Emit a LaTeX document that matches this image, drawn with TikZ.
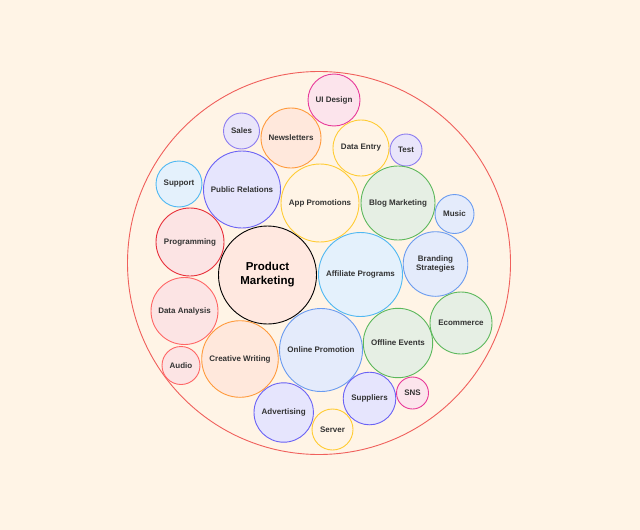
\documentclass[tikz,border=0pt]{standalone}
\usepackage{fontspec}
\setmainfont{Liberation Sans}
\definecolor{bg}{HTML}{FFF4E6}
\definecolor{txt}{HTML}{333333}
\definecolor{outerc}{HTML}{F0605C}
\definecolor{pinkS}{HTML}{E8399A}\definecolor{pinkF}{HTML}{FCE4EC}
\definecolor{purS}{HTML}{8C7CF0}\definecolor{purF}{HTML}{E9E5FA}
\definecolor{indS}{HTML}{6A62F5}\definecolor{indF}{HTML}{E6E5FD}
\definecolor{orS}{HTML}{FF9A3C}\definecolor{orF}{HTML}{FFE8DC}
\definecolor{yeS}{HTML}{FFCC33}\definecolor{yeF}{HTML}{FFF4E6}
\definecolor{grS}{HTML}{5CB85C}\definecolor{grF}{HTML}{E6EFE4}
\definecolor{lbS}{HTML}{4FB8F2}\definecolor{lbF}{HTML}{E4F1FC}
\definecolor{blS}{HTML}{6A9BF0}\definecolor{blF}{HTML}{E4EBFB}
\definecolor{rdS}{HTML}{E8303A}\definecolor{rdF}{HTML}{FCE4E4}
\definecolor{lrS}{HTML}{FF6666}\definecolor{lrF}{HTML}{FCE4E4}
\definecolor{pmF}{HTML}{FFE8E0}
\tikzset{
  bub/.style={circle, inner sep=0pt, line width=0.9pt, align=center, text=txt,
    font=\fontsize{8}{9.5}\selectfont\bfseries},
  pink/.style={bub, draw=pinkS, fill=pinkF},
  pur/.style={bub, draw=purS, fill=purF},
  ind/.style={bub, draw=indS, fill=indF},
  ora/.style={bub, draw=orS, fill=orF},
  yel/.style={bub, draw=yeS, fill=yeF},
  gre/.style={bub, draw=grS, fill=grF},
  lbl/.style={bub, draw=lbS, fill=lbF},
  blu/.style={bub, draw=blS, fill=blF},
  red/.style={bub, draw=rdS, fill=rdF},
  lred/.style={bub, draw=lrS, fill=lrF},
  r/.style={minimum size=2*#1 pt}
}
\begin{document}
\begin{tikzpicture}[x=1pt,y=-1pt]
\fill[bg] (0,0) rectangle (640,530);
\useasboundingbox (0,0) rectangle (640,530);
\node[circle, draw=outerc, line width=0.9pt, minimum size=383pt, inner sep=0pt] (outer) at (319,263) {};
\node[pink, r=26] (ui) at (334,100) {UI Design};
\node[pur, r=18] (sales) at (241.5,131) {Sales};
\node[ora, r=30] (news) at (291,138) {Newsletters};
\node[lbl, r=23] (support) at (179,184) {Support};
\node[ind, r=38.5] (pr) at (242,189.5) {Public Relations};
\node[yel, r=28] (entry) at (361,148) {Data Entry};
\node[pur, r=16] (test) at (406,150) {Test};
\node[yel, r=39] (app) at (320,203) {App Promotions};
\node[gre, r=37] (blog) at (398,203) {Blog Marketing};
\node[blu, r=19.5] (music) at (454.5,214) {Music};
\node[red, r=34] (prog) at (190,242) {Programming};
\node[bub, r=49, draw=black, fill=pmF, text=black, font=\fontsize{11.5}{14}\selectfont\bfseries] (pm) at (267.5,275) {Product\\Marketing};
\node[lred, r=33.5] (da) at (184.5,311) {Data Analysis};
\node[lred, r=19] (audio) at (181,365.5) {Audio};
\node[ora, r=38.3] (cw) at (240,359) {Creative Writing};
\node[blu, r=41.5] (op) at (321,350) {Online Promotion};
\node[lbl, r=42] (aff) at (360.5,274.5) {Affiliate Programs};
\node[blu, r=32.3] (brand) at (435.5,264) {Branding\\Strategies};
\node[gre, r=31] (ecom) at (461,323) {Ecommerce};
\node[gre, r=34.7] (off) at (398,343) {Offline Events};
\node[pink, r=16] (sns) at (412.5,393) {SNS};
\node[ind, r=26.3] (sup) at (369.5,398.5) {Suppliers};
\node[ind, r=29.7] (adv) at (283.7,412.5) {Advertising};
\node[yel, r=20.5] (server) at (332.5,429.5) {Server};
\end{tikzpicture}
\end{document}
